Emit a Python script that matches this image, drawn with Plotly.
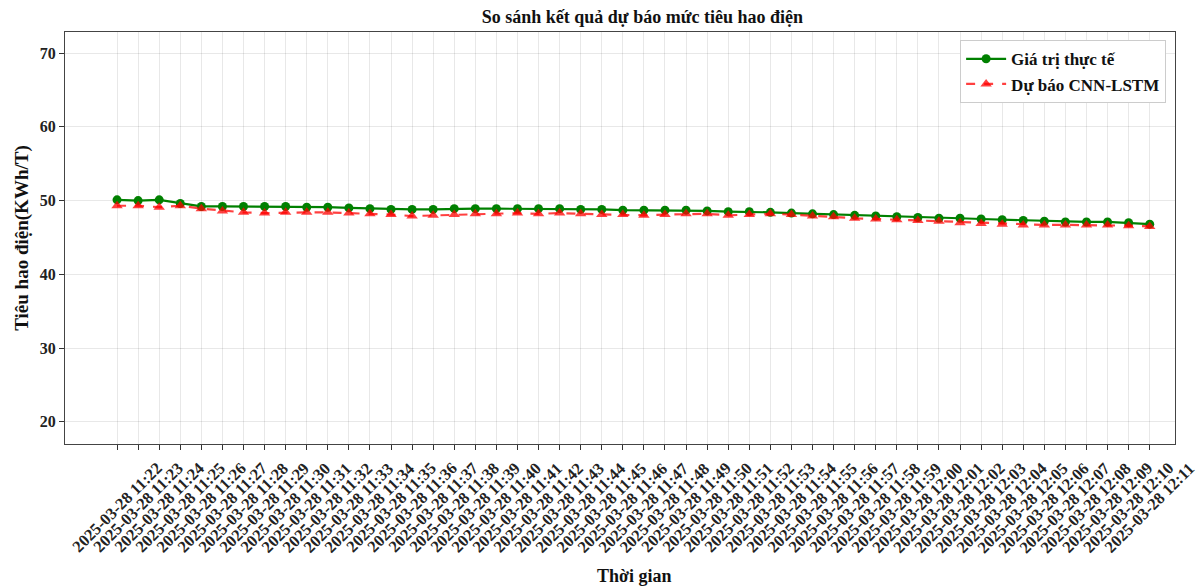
import plotly.graph_objects as go

# Time stamps (one reading per minute)
time_labels = [f"2025-03-28 {11 + (22 + i) // 60}:{(22 + i) % 60:02d}" for i in range(50)]

# Measured consumption (KWh/T)
actual = [50.1, 50.0, 50.1, 49.6, 49.2, 49.2, 49.2, 49.2, 49.2, 49.1,
          49.1, 49.0, 48.9, 48.8, 48.8, 48.8, 48.9, 48.9, 48.9, 48.9,
          48.9, 48.9, 48.8, 48.8, 48.7, 48.7, 48.7, 48.7, 48.6, 48.5,
          48.5, 48.4, 48.3, 48.2, 48.1, 48.0, 47.9, 47.8, 47.7, 47.6,
          47.6, 47.5, 47.4, 47.3, 47.2, 47.1, 47.1, 47.1, 47.0, 46.8]

# CNN-LSTM forecast (KWh/T)
predicted = [49.3, 49.3, 49.1, 49.3, 48.9, 48.6, 48.4, 48.3, 48.4, 48.4,
             48.4, 48.3, 48.2, 48.1, 47.9, 48.0, 48.1, 48.2, 48.2, 48.3,
             48.2, 48.3, 48.2, 48.1, 48.1, 48.0, 48.1, 48.2, 48.2, 48.0,
             48.1, 48.2, 48.1, 47.9, 47.8, 47.6, 47.5, 47.4, 47.3, 47.2,
             47.0, 46.9, 46.8, 46.7, 46.7, 46.7, 46.7, 46.7, 46.6, 46.5]

y_ticks = [20, 30, 40, 50, 60, 70]

FONT = "Liberation Serif, Times New Roman, serif"

fig = go.Figure()
fig.add_trace(go.Scatter(
    x=time_labels, y=actual, name="Giá trị thực tế",
    mode="lines+markers",
    line=dict(color="#008000", width=2.2),
    marker=dict(symbol="circle", size=9, color="#008000"),
))
fig.add_trace(go.Scatter(
    x=time_labels, y=predicted, name="Dự báo CNN-LSTM",
    mode="lines+markers",
    line=dict(color="rgba(255,0,0,0.75)", width=2.2, dash="dash"),
    marker=dict(symbol="triangle-up", size=10, color="rgba(255,0,0,0.75)"),
))

# Rotated time labels, centred under each tick
for t in time_labels:
    fig.add_annotation(
        x=t, y=0, xref="x", yref="paper",
        text=t, showarrow=False, textangle=-45,
        xanchor="center", yanchor="top", yshift=-12,
        font=dict(family=FONT, size=16.5, color="#222", weight="bold"),
    )

# x-axis title below the rotated labels
fig.add_annotation(
    x=0.513, y=0, xref="paper", yref="paper",
    text="Thời gian", showarrow=False,
    xanchor="center", yanchor="middle", yshift=-132,
    font=dict(family=FONT, size=18, color="#111", weight="bold"),
)

fig.update_layout(
    width=1203, height=588,
    margin=dict(l=65, r=28, t=32, b=144),
    paper_bgcolor="white", plot_bgcolor="white",
    font=dict(family=FONT, size=15, color="#222", weight="bold"),
    title=dict(text="So sánh kết quả dự báo mức tiêu hao điện",
               x=0.534, xanchor="center", y=0.971, yanchor="middle",
               font=dict(family=FONT, size=18, color="#111", weight="bold")),
    legend=dict(x=0.992, xanchor="right", y=0.98, yanchor="top",
                bgcolor="white", bordercolor="#cccccc", borderwidth=1,
                font=dict(family=FONT, size=17, color="#111", weight="bold"),
                itemwidth=40),
    showlegend=True,
)

fig.update_xaxes(
    type="category", range=[-2.47, 50.2],
    showticklabels=False, ticks="outside", ticklen=5, tickcolor="#333",
    showgrid=True, gridcolor="rgba(0,0,0,0.09)", gridwidth=1,
    showline=True, linecolor="#444", linewidth=1.3, mirror=True,
    zeroline=False,
)
fig.update_yaxes(
    range=[17.0, 72.85], tickvals=y_ticks,
    ticks="outside", ticklen=5, tickcolor="#333",
    tickfont=dict(family=FONT, size=16, color="#222", weight="bold"),
    showgrid=True, gridcolor="rgba(0,0,0,0.09)", gridwidth=1,
    showline=True, linecolor="#444", linewidth=1.3, mirror=True,
    title=dict(text="Tiêu hao điện(KWh/T)", standoff=6,
               font=dict(family=FONT, size=19, color="#111", weight="bold")),
    zeroline=False,
)

fig.write_html("out.html")
